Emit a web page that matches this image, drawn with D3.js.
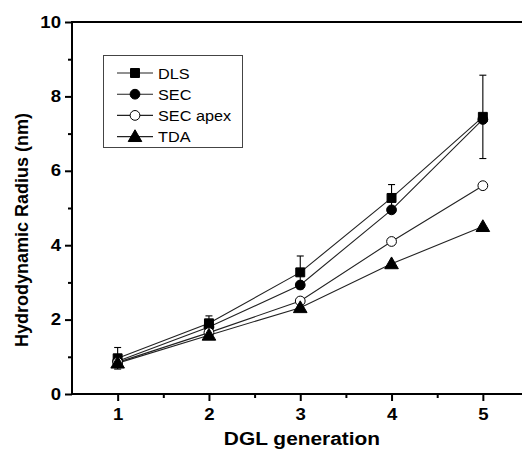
<!DOCTYPE html>
<html><head><meta charset="utf-8">
<script src="https://cdn.jsdelivr.net/npm/d3@7"></script>
<style>body{margin:0;background:#fff}svg{display:block}</style>
</head><body>
<script>
const generations = [1, 2, 3, 4, 5];
const dls = [0.96, 1.90, 3.27, 5.27, 7.45];
const dlsErr = [0.29, 0.20, 0.44, 0.36, 1.12];
const sec = [0.88, 1.80, 2.93, 4.95, 7.38];
const secApex = [0.85, 1.65, 2.50, 4.10, 5.60];
const tda = [0.83, 1.58, 2.32, 3.50, 4.50];
const seriesNames = ["DLS", "SEC", "SEC apex", "TDA"];
const yTicks = [0, 2, 4, 6, 8, 10];
const xTicks = [1, 2, 3, 4, 5];

const W = 522, H = 449;
const svg = d3.select("body").append("svg").attr("width", W).attr("height", H);
const x = d3.scaleLinear().domain([0.5, 5.5]).range([72, 528.5]);
const y = d3.scaleLinear().domain([0, 10]).range([394, 22]);
const font = "Liberation Sans, Arial, sans-serif";
const STRETCH = 1.16;
function stretch(sel) {
  sel.each(function () {
    const w = this.getComputedTextLength();
    d3.select(this).attr("textLength", w * STRETCH).attr("lengthAdjust", "spacingAndGlyphs");
  });
}

// frame
svg.append("rect").attr("x", x(0.5)).attr("y", y(10)).attr("width", x(5.5) - x(0.5)).attr("height", y(0) - y(10))
  .attr("fill", "none").attr("stroke", "#000").attr("stroke-width", 2);

// axes
const xAxis = svg.append("g").attr("transform", `translate(0,${y(0)})`)
  .call(d3.axisBottom(x).tickValues(xTicks).tickSize(7).tickPadding(8).tickFormat(d3.format("d")));
const xMinor = svg.append("g").attr("transform", `translate(0,${y(0)})`)
  .call(d3.axisBottom(x).tickValues([1.5, 2.5, 3.5, 4.5]).tickSize(4).tickFormat(""));
const yAxis = svg.append("g").attr("transform", `translate(${x(0.5)},0)`)
  .call(d3.axisLeft(y).tickValues(yTicks).tickSize(7).tickPadding(4).tickFormat(d3.format("d")));
const yMinor = svg.append("g").attr("transform", `translate(${x(0.5)},0)`)
  .call(d3.axisLeft(y).tickValues([1, 3, 5, 7, 9]).tickSize(4).tickFormat(""));
[xAxis, xMinor, yAxis, yMinor].forEach(g => {
  g.select(".domain").remove();
  g.selectAll("line").attr("stroke", "#000").attr("stroke-width", 2);
  g.selectAll("text").attr("font-family", font).attr("font-size", 16).attr("font-weight", "bold").attr("fill", "#000");
});
stretch(xAxis.selectAll("text"));
stretch(yAxis.selectAll("text"));

// axis titles
svg.append("text").attr("x", 302).attr("y", 445).attr("text-anchor", "middle")
  .attr("font-family", font).attr("font-size", 18).attr("font-weight", "bold").text("DGL generation")
  .call(stretch);
svg.append("text").attr("transform", "translate(28,230) rotate(-90)").attr("text-anchor", "middle")
  .attr("font-family", font).attr("font-size", 18).attr("font-weight", "bold").text("Hydrodynamic Radius (nm)");

const allSeries = [dls, sec, secApex, tda];
const line = d3.line().x((d, i) => x(generations[i])).y(d => y(d));
allSeries.forEach(s => {
  svg.append("path").attr("d", line(s)).attr("fill", "none").attr("stroke", "#222").attr("stroke-width", 1.1);
});

// error bars for DLS
dls.forEach((v, i) => {
  const cx = x(generations[i]);
  const g = svg.append("g").attr("stroke", "#000").attr("stroke-width", 1.1);
  g.append("line").attr("x1", cx).attr("x2", cx).attr("y1", y(v - dlsErr[i])).attr("y2", y(v + dlsErr[i]));
  [v - dlsErr[i], v + dlsErr[i]].forEach(e => {
    g.append("line").attr("x1", cx - 3.5).attr("x2", cx + 3.5).attr("y1", y(e)).attr("y2", y(e));
  });
});

const symbols = [
  { type: d3.symbolSquare, size: 80, fill: "#000" },
  { type: d3.symbolCircle, size: 75, fill: "#000" },
  { type: d3.symbolCircle, size: 75, fill: "#fff" },
  { type: d3.symbolTriangle, size: 80, fill: "#000" }
];
function marker(sel, k, cx, cy) {
  const s = symbols[k];
  sel.append("path").attr("d", d3.symbol().type(s.type).size(s.size)())
    .attr("transform", `translate(${cx},${cy + (k === 3 ? 1 : 0)})`)
    .attr("fill", s.fill).attr("stroke", "#000").attr("stroke-width", 1);
}
allSeries.forEach((s, k) => {
  s.forEach((v, i) => marker(svg, k, x(generations[i]), y(v)));
});

// legend
const leg = svg.append("g");
leg.append("rect").attr("x", 103.5).attr("y", 55.5).attr("width", 139).attr("height", 92)
  .attr("fill", "#fff").attr("stroke", "#444").attr("stroke-width", 1);
seriesNames.forEach((n, k) => {
  const ly = 73 + k * 21.2;
  leg.append("line").attr("x1", 117).attr("x2", 153).attr("y1", ly).attr("y2", ly).attr("stroke", "#222").attr("stroke-width", 1.1);
  marker(leg, k, 135, ly);
  leg.append("text").attr("x", 158).attr("y", ly + 5.5).attr("font-family", font).attr("font-size", 14).text(n).call(stretch);
});
</script>
</body></html>
